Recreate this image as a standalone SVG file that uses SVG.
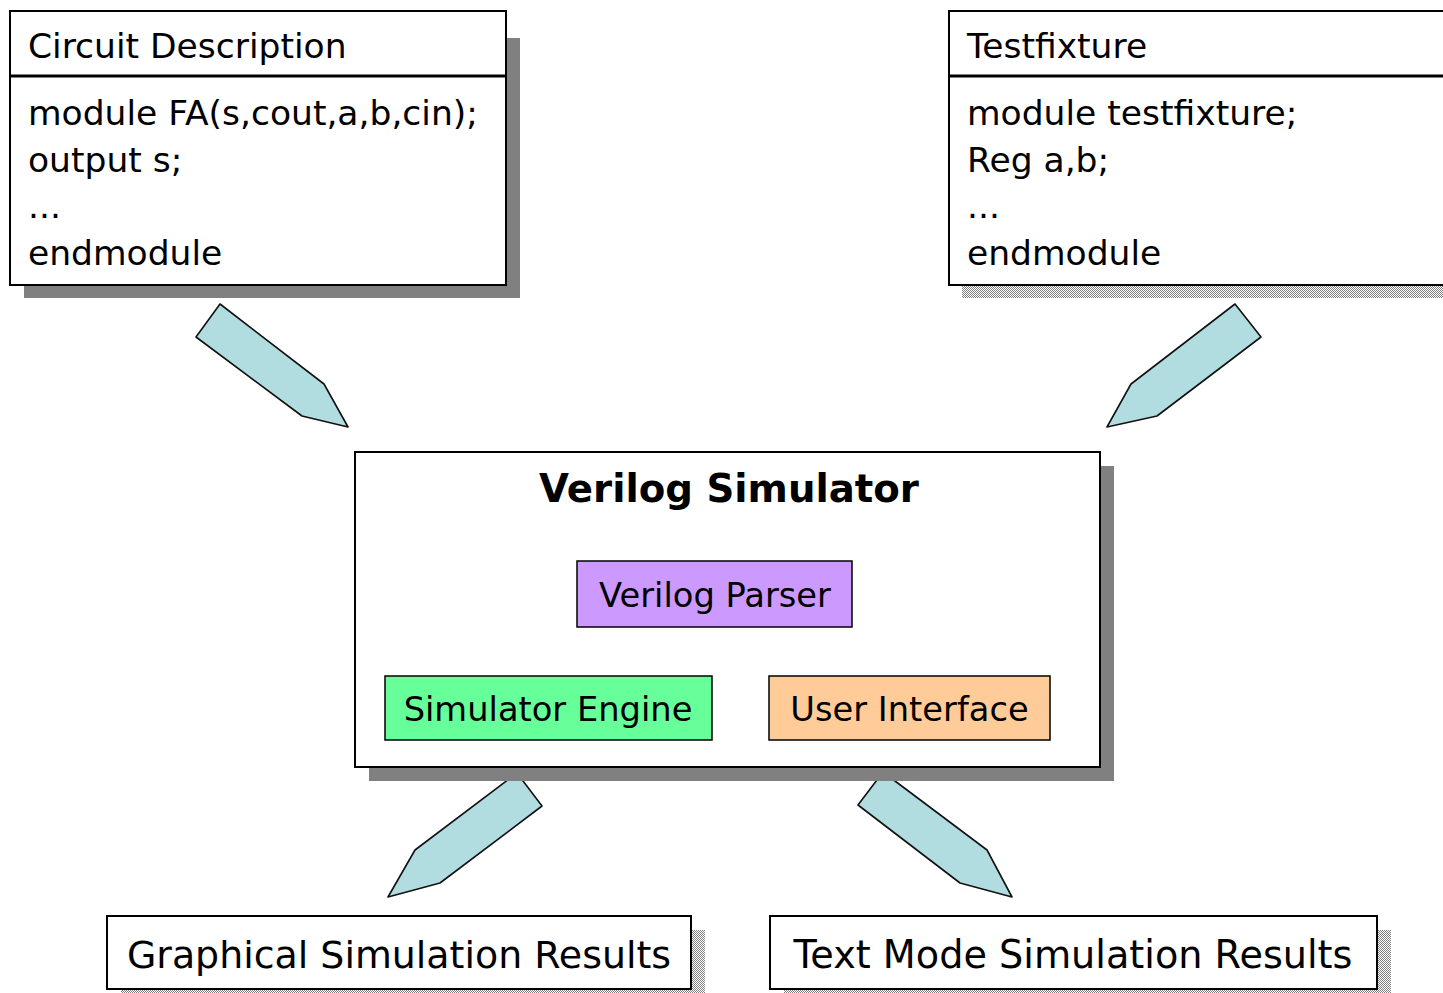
<svg xmlns="http://www.w3.org/2000/svg" width="1443" height="993" viewBox="0 0 1443 993">
<style>
.t{font-family:"DejaVu Sans","Liberation Sans",sans-serif;fill:#000}
.code{font-size:34.5px}
.box{fill:#fff;stroke:#000;stroke-width:2}
.inner{stroke:#000;stroke-width:1.5}
.sh{fill:#808080}
.dsh{fill:url(#dither)}
.arrow{fill:#b2dde0;stroke:#111;stroke-width:1.6;stroke-linejoin:round}
.div{stroke:#000;stroke-width:3}
</style>
<defs>
<pattern id="dither" patternUnits="userSpaceOnUse" width="2" height="2">
<rect width="2" height="2" fill="#ffffff"/>
<rect width="1" height="1" fill="#808080"/>
<rect x="1" y="1" width="1" height="1" fill="#808080"/>
</pattern>
</defs>
<rect width="1443" height="993" fill="#fff"/>
<g id="connectors">
<polygon class="arrow" points="220,304 324,384 348,427 302,416 196,337"/>
<polygon class="arrow" points="1235,304 1261,337 1157,416 1107,427 1131,384"/>
<polygon class="arrow" points="517,773 542,806 440,883 388,897 415,850"/>
<polygon class="arrow" points="883,772 987,850 1012,897 960,883 858,805"/>
</g>
<g id="circuit-description">
<rect class="sh" x="24" y="38" width="496" height="260"/>
<rect class="box" x="10" y="11" width="496" height="274"/>
<line class="div" x1="10" y1="76" x2="506" y2="76"/>
<text class="t code" x="28" y="58">Circuit Description</text>
<text class="t code" x="28" y="125">module FA(s,cout,a,b,cin);</text>
<text class="t code" x="28" y="172">output s;</text>
<text class="t code" x="28" y="218">...</text>
<text class="t code" x="28" y="265">endmodule</text>
</g>
<g id="testfixture">
<rect class="dsh" x="962" y="286" width="490" height="12"/>
<rect class="box" x="949" y="11" width="510" height="274"/>
<line class="div" x1="949" y1="76" x2="1459" y2="76"/>
<text class="t code" x="967" y="58">Testfixture</text>
<text class="t code" x="967" y="125">module testfixture;</text>
<text class="t code" x="967" y="172">Reg a,b;</text>
<text class="t code" x="967" y="218">...</text>
<text class="t code" x="967" y="265">endmodule</text>
</g>
<g id="verilog-simulator">
<rect class="sh" x="369" y="466" width="745" height="315"/>
<rect class="box" x="355" y="452" width="745" height="315"/>
<text class="t" x="729" y="502" text-anchor="middle" font-size="38.7" font-weight="bold">Verilog Simulator</text>
</g>
<g id="verilog-parser">
<rect class="inner" x="577" y="561" width="275" height="66" fill="#cc99ff"/>
<text class="t" x="715" y="607" text-anchor="middle" font-size="33.7">Verilog Parser</text>
</g>
<g id="simulator-engine">
<rect class="inner" x="385" y="676" width="327" height="64" fill="#66ff99"/>
<text class="t" x="548" y="721" text-anchor="middle" font-size="33.7">Simulator Engine</text>
</g>
<g id="user-interface">
<rect class="inner" x="769" y="676" width="281" height="64" fill="#ffcc99"/>
<text class="t" x="909.5" y="721" text-anchor="middle" font-size="33.7">User Interface</text>
</g>
<g id="graphical-results">
<rect class="dsh" x="121" y="930" width="584" height="70"/>
<rect class="box" x="107" y="916" width="584" height="73"/>
<text class="t" x="399" y="968" text-anchor="middle" font-size="37.9">Graphical Simulation Results</text>
</g>
<g id="text-results">
<rect class="dsh" x="784" y="930" width="607" height="70"/>
<rect class="box" x="770" y="916" width="607" height="73"/>
<text class="t" x="1073" y="968" text-anchor="middle" font-size="38.2">Text Mode Simulation Results</text>
</g>
</svg>
